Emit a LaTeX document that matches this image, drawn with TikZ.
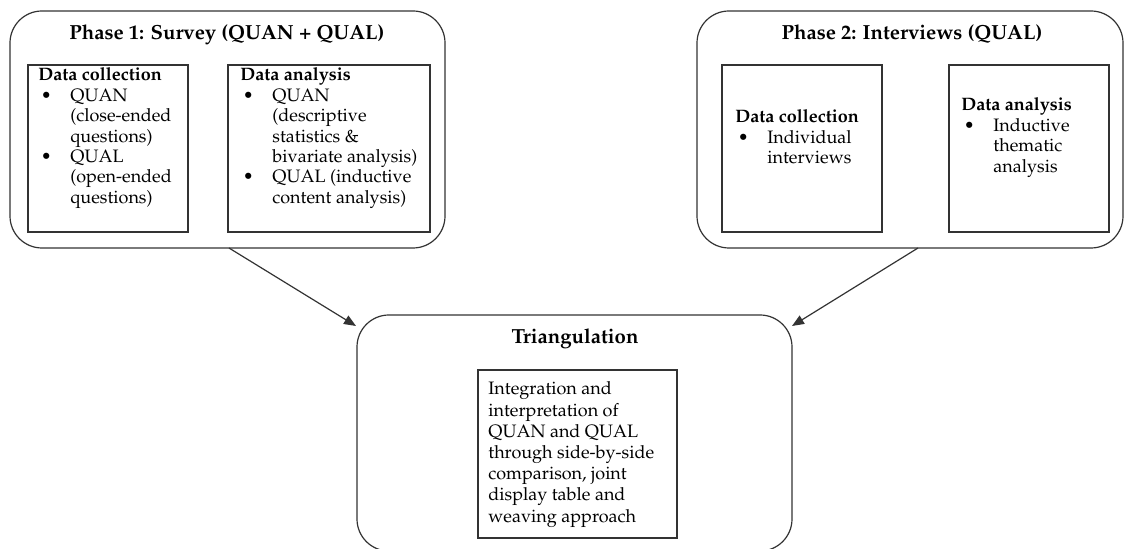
\documentclass[tikz,border=0pt]{standalone}
\usepackage[T1]{fontenc}
\usepackage{mathpazo}
\usetikzlibrary{fit,arrows.meta}
\newcommand\bitem[1]{\par\hangindent=16pt\hangafter=1\noindent\makebox[16pt][l]{\hspace{1.2pt}\textbullet}#1\par}
\newcommand\bodybox[2]{\parbox[t]{#1}{\raggedright\fontsize{9}{10.2}\selectfont #2}}
\tikzset{
  ln/.style={draw=black!80, line width=0.6pt},
  rbox/.style={ln, rounded corners=16pt, inner sep=0pt},
  ibox/.style={ln, inner sep=0pt},
  ttl/.style={font=\fontsize{10.2}{12}\selectfont\bfseries, inner sep=0pt, anchor=base},
  body/.style={inner sep=0pt, anchor=base west},
  arr/.style={ln, -{Triangle[length=6pt,width=4.8pt]}}
}
\begin{document}
\begin{tikzpicture}[x=0.5pt,y=-0.5pt]
\useasboundingbox (0,0) rectangle (1125,549);
% Phase 1
\node[rbox, fit={(10,11) (445,248)}] (p1) {};
\node[ttl] (p1t) at (227,40) {Phase 1: Survey (QUAN + QUAL)};
\node[ibox, fit={(28,65) (188,232)}] (p1c) {};
\node[ibox, fit={(228,65) (430,232)}] (p1a) {};
\node[body] (p1ct) at (38,81) {\bodybox{76pt}{\noindent\textbf{Data collection}\par
\bitem{QUAN\newline(close-ended\newline questions)}
\bitem{QUAL\newline(open-ended\newline questions)}}};
\node[body] (p1at) at (240,81) {\bodybox{96pt}{\noindent\textbf{Data analysis}\par
\bitem{QUAN\newline(descriptive\newline statistics \&\newline bivariate analysis)}
\bitem{QUAL (inductive\newline content analysis)}}};
% Phase 2
\node[rbox, fit={(697,11) (1123,248)}] (p2) {};
\node[ttl] (p2t) at (912,40) {Phase 2: Interviews (QUAL)};
\node[ibox, fit={(722,65) (882,232)}] (p2c) {};
\node[ibox, fit={(949,65) (1109,232)}] (p2a) {};
\node[body] (p2ct) at (735,123) {\bodybox{76pt}{\noindent\textbf{Data collection}\par
\bitem{Individual\newline interviews}}};
\node[body] (p2at) at (961,111) {\bodybox{76pt}{\noindent\textbf{Data analysis}\par
\bitem{Inductive\newline thematic\newline analysis}}};
% Triangulation
\node[rbox, fit={(357,315) (792,551)}] (tr) {};
\node[ttl] (trt) at (575,344) {Triangulation};
\node[ibox, fit={(478,370) (677,538)}] (tri) {};
\node[body] (trit) at (488,395) {\parbox[t]{92pt}{\raggedright\fontsize{9}{10.6}\selectfont Integration and\\interpretation of\\QUAN and QUAL\\through side-by-side\\comparison, joint\\display table and\\weaving approach}};
% arrows
\coordinate (s1) at (229,248);
\coordinate (e1) at (356,326);
\coordinate (s2) at (918,248);
\coordinate (e2) at (792,326);
\draw[arr] (s1) -- (e1);
\draw[arr] (s2) -- (e2);
\end{tikzpicture}
\end{document}
